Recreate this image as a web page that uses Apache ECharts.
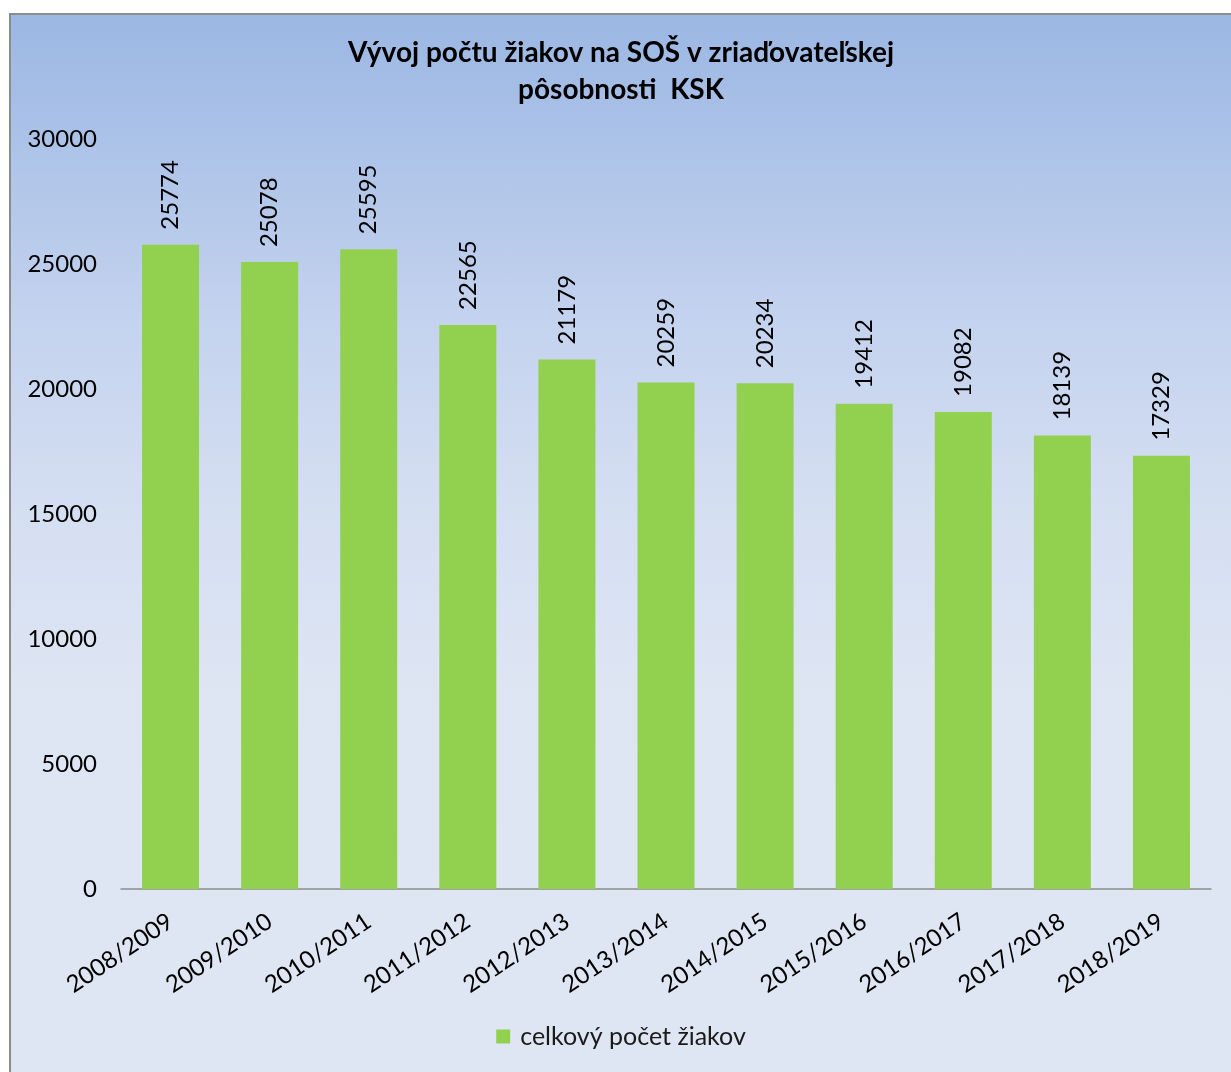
<!DOCTYPE html>
<html>
<head>
<meta charset="utf-8">
<script src="https://cdn.jsdelivr.net/npm/echarts@6/dist/echarts.min.js"></script>
<style>
  body { margin: 0; background: #fff; }
  #chart {
    position: absolute; left: 9px; top: 13px;
    width: 1220px; height: 1070px;
    border: 2px solid #8c8c8c; border-right: none; border-bottom: none;
    background: linear-gradient(to bottom, #9bb7e3 0%, #c3d2ee 28%, #d4def2 45%, #dde5f3 62%, #dfe6f3 100%);
  }
</style>
</head>
<body>
<div id="chart"></div>
<script>
  // data
  var categories = ['2008/2009','2009/2010','2010/2011','2011/2012','2012/2013','2013/2014','2014/2015','2015/2016','2016/2017','2017/2018','2018/2019']
  var values = [25774, 25078, 25595, 22565, 21179, 20259, 20234, 19412, 19082, 18139, 17329]
  var seriesName = 'celkový počet žiakov'
  var titleText = 'Vývoj počtu žiakov na SOŠ v zriaďovateľskej\npôsobnosti  KSK'

  var font = 'Lato, "Open Sans", sans-serif'
  var myChart = echarts.init(document.getElementById('chart'))
  var option = {
    backgroundColor: 'transparent',
    textStyle: { fontFamily: font },
    title: {
      text: titleText,
      left: 'center',
      top: 14,
      textStyle: { fontFamily: font, fontSize: 28, fontWeight: 'bold', color: '#000', lineHeight: 37 }
    },
    legend: {
      bottom: 31,
      left: 'center',
      icon: 'rect',
      itemWidth: 14,
      itemHeight: 14,
      itemGap: 8,
      textStyle: { fontFamily: font, fontSize: 25, color: '#1a1a1a', padding: [0, 0, 0, 5] },
      data: [seriesName]
    },
    grid: { left: 110, right: 20, top: 124, height: 750, containLabel: false },
    xAxis: {
      type: 'category',
      data: categories,
      axisLine: { lineStyle: { color: '#8c8c8c', width: 1.5 } },
      axisTick: { show: false },
      axisLabel: { rotate: 34, fontSize: 24, color: '#000', margin: 30, fontFamily: font, interval: 0 }
    },
    yAxis: {
      type: 'value',
      min: 0,
      max: 30000,
      interval: 5000,
      splitLine: { show: false },
      axisLine: { show: false },
      axisTick: { show: false },
      axisLabel: { fontSize: 24, color: '#000', margin: 24, fontFamily: font, formatter: function (v) { return String(v) } }
    },
    series: [{
      name: seriesName,
      type: 'bar',
      barWidth: 57,
      itemStyle: { color: '#92d050' },
      label: {
        show: true,
        position: 'top',
        rotate: 90,
        align: 'left',
        verticalAlign: 'middle',
        distance: 15,
        fontSize: 24,
        color: '#000',
        fontFamily: font,
        formatter: function (p) { return String(p.value) }
      },
      data: values
    }]
  }
  myChart.setOption(option)
</script>
</body>
</html>
